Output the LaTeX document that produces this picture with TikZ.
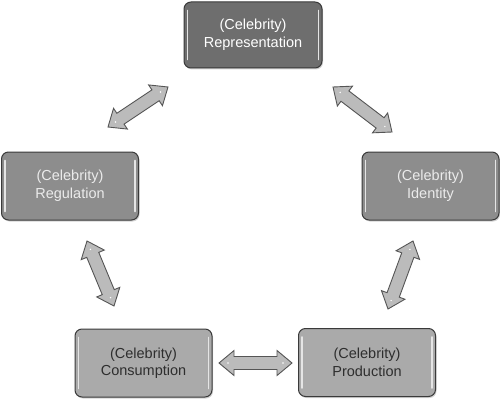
\documentclass[tikz,border=0pt]{standalone}
\usepackage{fontspec}
\setmainfont{Liberation Sans}
\usetikzlibrary{calc,shadows}

\definecolor{boxdark}{HTML}{6E6E6E}
\definecolor{boxmid}{HTML}{8D8D8D}
\definecolor{boxlight}{HTML}{AAAAAA}
\definecolor{boxedge}{HTML}{3A3A3A}
\definecolor{arrowfill}{HTML}{BBBBBB}
\definecolor{arrowedge}{HTML}{555555}
\definecolor{darktext}{HTML}{2E2E2E}

\def\arrHL{15pt}
\def\arrHW{12.5pt}
\def\arrSW{6.5pt}

\newcommand\dblarrow[2]{%
  \draw[arrowshape] (#1)
    -- ($(#1)!\arrHL!(#2)!\arrHW!90:(#2)$)
    -- ($(#1)!\arrHL!(#2)!\arrSW!90:(#2)$)
    -- ($(#2)!\arrHL!(#1)!\arrSW!-90:(#1)$)
    -- ($(#2)!\arrHL!(#1)!\arrHW!-90:(#1)$)
    -- (#2)
    -- ($(#2)!\arrHL!(#1)!\arrHW!90:(#1)$)
    -- ($(#2)!\arrHL!(#1)!\arrSW!90:(#1)$)
    -- ($(#1)!\arrHL!(#2)!\arrSW!-90:(#2)$)
    -- ($(#1)!\arrHL!(#2)!\arrHW!-90:(#2)$)
    -- cycle;
  \fill[white] ($(#1)!9pt!(#2)$) circle (0.8pt);
  \fill[white] ($(#2)!9pt!(#1)$) circle (0.8pt);
}

\tikzset{
  box/.style={draw=boxedge, line width=1pt, rounded corners=7pt,
    minimum width=137pt, minimum height=68pt, align=center,
    font=\fontsize{14.5}{17.5}\selectfont,
    drop shadow={shadow xshift=1pt, shadow yshift=-1.5pt, opacity=0.35}},
  darkbox/.style={box, fill=boxdark, text=white},
  midbox/.style={box, fill=boxmid, text=white!92!black},
  lightbox/.style={box, fill=boxlight, text=darktext},
  highlight/.style={draw=white!90!black, line width=1.6pt, line cap=round},
  arrowshape/.style={draw=arrowedge, line width=0.9pt, fill=arrowfill, line join=miter},
}

\begin{document}
\begin{tikzpicture}[x=1pt, y=-1pt]
\useasboundingbox (0,0) rectangle (500,401);

\node[darkbox, minimum width=138pt, minimum height=66pt] (rep) at (253,35) {(Celebrity)\\Representation};
\node[midbox] (reg) at (70,186) {(Celebrity)\\Regulation};
\node[midbox] (ide) at (430.5,186) {(Celebrity)\\Identity};
\node[lightbox] (con) at (143.5,363) {(Celebrity)\\Consumption};
\node[lightbox] (pro) at (367,362.5) {(Celebrity)\\Production};

\foreach \n in {rep,reg,ide,con,pro}{
  \draw[highlight] ($(\n.north west)+(4,9)$) -- ($(\n.south west)+(4,-9)$);
  \draw[highlight] ($(\n.north east)+(-4,9)$) -- ($(\n.south east)+(-4,-9)$);
}

\coordinate (a1) at (108,127);
\coordinate (a2) at (168,87);
\coordinate (b1) at (333,87);
\coordinate (b2) at (392,132);
\coordinate (c1) at (87,241);
\coordinate (c2) at (114,306);
\coordinate (d1) at (413,241);
\coordinate (d2) at (388,309);
\coordinate (e1) at (219,363);
\coordinate (e2) at (292,363);

\dblarrow{a1}{a2}
\dblarrow{b1}{b2}
\dblarrow{c1}{c2}
\dblarrow{d1}{d2}
\dblarrow{e1}{e2}
\end{tikzpicture}
\end{document}
